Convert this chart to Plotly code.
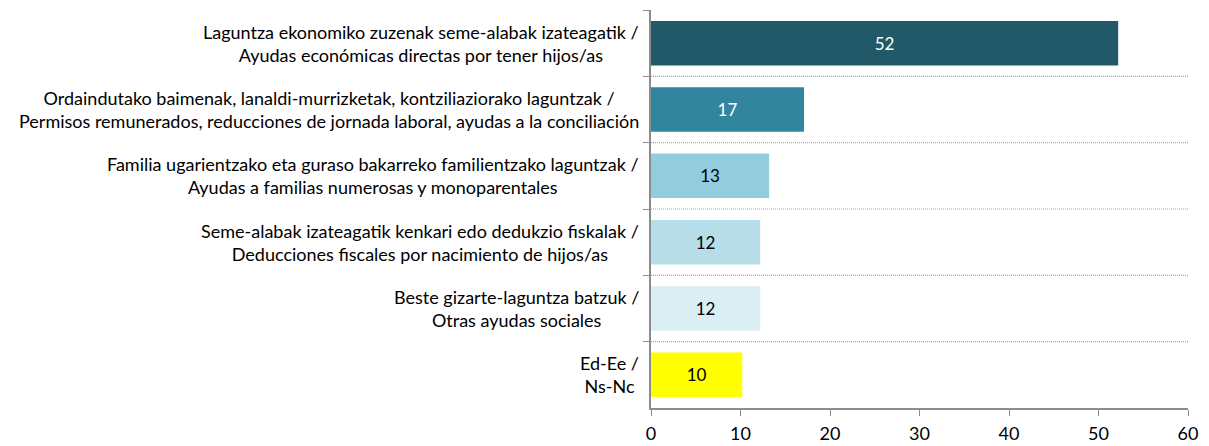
import plotly.graph_objects as go

categories = [
    "Laguntza ekonomiko zuzenak seme-alabak izateagatik /<br>Ayudas económicas directas por tener hijos/as",
    "Ordaindutako baimenak, lanaldi-murrizketak, kontziliaziorako laguntzak /<br>Permisos remunerados, reducciones de jornada laboral, ayudas a la conciliación",
    "Familia ugarientzako eta guraso bakarreko familientzako laguntzak /<br>Ayudas a familias numerosas y monoparentales",
    "Seme-alabak izateagatik kenkari edo dedukzio fiskalak /<br>Deducciones fiscales por nacimiento de hijos/as",
    "Beste gizarte-laguntza batzuk /<br>Otras ayudas sociales",
    "Ed-Ee /<br>Ns-Nc",
]
values = [52.2, 17.1, 13.2, 12.2, 12.2, 10.2]
bar_colors = ["#215968", "#31859C", "#93CDDD", "#B7DEE8", "#DBEEF4", "#FFFF00"]
text_colors = ["white", "white", "black", "black", "black", "black"]
x_ticks = [0, 10, 20, 30, 40, 50, 60]

FONT = "Lato"

fig = go.Figure(
    go.Bar(
        x=values,
        y=categories,
        orientation="h",
        marker=dict(color=bar_colors, line=dict(width=0)),
        text=[f"{v:.0f}" for v in values],
        textposition="inside",
        insidetextanchor="middle",
        textangle=0,
        textfont=dict(family=FONT, size=17, color=text_colors),
        width=0.67,
        hoverinfo="skip",
    )
)

shapes = []
for i in range(len(categories) - 1):
    shapes.append(
        dict(
            type="line", xref="paper", yref="y",
            x0=0, x1=1, y0=i + 0.5, y1=i + 0.5,
            line=dict(color="#A6A6A6", width=1.2, dash="1px,1px"),
        )
    )

annotations = []
for c in categories:
    annotations.append(
        dict(
            xref="paper", yref="y", x=0, y=c,
            xanchor="right", yanchor="middle", xshift=-10,
            text=c, align="center", showarrow=False,
            font=dict(family=FONT, size=18, color="black"),
        )
    )

fig.update_layout(
    width=1201,
    height=438,
    margin=dict(l=643, r=21, t=2, b=35),
    plot_bgcolor="white",
    paper_bgcolor="white",
    showlegend=False,
    shapes=shapes,
    annotations=annotations,
    font=dict(family=FONT, size=16, color="black"),
    xaxis=dict(
        range=[0, 60],
        tickvals=x_ticks,
        ticks="outside",
        ticklen=6,
        tickcolor="#8C8C8C",
        ticklabelstandoff=3,
        showgrid=False,
        zeroline=False,
        showline=True,
        linecolor="#8C8C8C",
        linewidth=1.5,
        tickfont=dict(family=FONT, size=18, color="black"),
        fixedrange=True,
    ),
    yaxis=dict(
        autorange="reversed",
        ticks="outside",
        tickson="boundaries",
        ticklen=6,
        tickcolor="#8C8C8C",
        showline=True,
        linecolor="#8C8C8C",
        linewidth=1.5,
        showgrid=False,
        showticklabels=False,
        fixedrange=True,
    ),
)

fig.write_html("out.html")
